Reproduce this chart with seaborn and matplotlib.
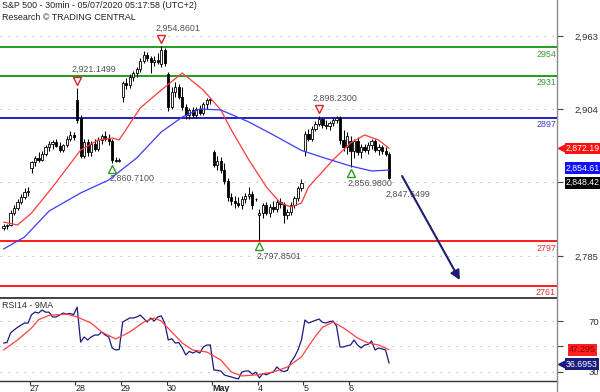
import numpy as np
import pandas as pd
import matplotlib
matplotlib.use("Agg")
import matplotlib.pyplot as plt
import seaborn as sns
from matplotlib.transforms import offset_copy, blended_transform_factory
from matplotlib.lines import Line2D

# ---------------- data ----------------
title = "S&P 500 - 30min - 05/07/2020 05:17:58 (UTC+2)"
subtitle = "Research \u00a9 TRADING CENTRAL"

opens = [2808, 2809, 2810, 2820, 2824, 2829, 2833, 2837,
         2856, 2861, 2864, 2863, 2868, 2873, 2876, 2877, 2874, 2871, 2875, 2880, 2883,
         2911, 2897, 2866, 2877, 2869, 2876, 2872, 2879, 2882, 2880, 2878, 2863, 2862,
         2914, 2925, 2923, 2930, 2933, 2936, 2943, 2948, 2945, 2942, 2944, 2940, 2952,
         2932, 2906, 2918, 2922, 2914, 2906, 2899, 2903, 2899, 2904, 2901, 2908, 2911,
         2869, 2859, 2862, 2855, 2846, 2833, 2830, 2828, 2826, 2831, 2834, 2835, 2831,
         2818, 2820, 2826, 2820, 2825, 2823, 2829, 2827, 2818, 2821, 2826, 2832, 2840,
         2870, 2884, 2880, 2888, 2892, 2896, 2891, 2890, 2893, 2895, 2897, 2879, 2873,
         2878, 2870, 2878, 2869, 2873, 2871, 2875, 2878, 2871, 2873, 2870, 2868]
highs = [2811, 2811, 2822, 2826, 2831, 2835, 2840, 2841,
         2862, 2866, 2869, 2870, 2875, 2878, 2879, 2880, 2877, 2876, 2882, 2886, 2885,
         2921.1499, 2899, 2880, 2880, 2878, 2880, 2881, 2884, 2886, 2884, 2880, 2865, 2864,
         2927, 2929, 2932, 2935, 2938, 2945, 2951, 2950, 2947, 2947, 2949, 2954.8601, 2953,
         2934, 2922, 2926, 2924, 2922, 2908, 2905, 2906, 2906, 2907, 2910, 2913, 2913,
         2871, 2866, 2865, 2860, 2848, 2836, 2834, 2833, 2834, 2836, 2841, 2838, 2832,
         2823, 2828, 2829, 2827, 2830, 2831, 2832, 2829, 2823, 2829, 2834, 2842, 2847,
         2886, 2888, 2890, 2894, 2898.23, 2897, 2895, 2894, 2897, 2898, 2898, 2887, 2885,
         2882, 2880, 2881, 2876, 2876, 2877, 2880, 2880, 2876, 2875, 2873, 2869]
lows = [2806, 2807, 2809, 2818, 2822, 2827, 2831, 2834,
        2852, 2858, 2861, 2862, 2866, 2870, 2872, 2873, 2869, 2869, 2873, 2878, 2879,
        2893, 2864, 2864, 2866, 2866, 2870, 2870, 2876, 2878, 2875, 2860.71, 2861, 2861,
        2910, 2920, 2921, 2927, 2930, 2934, 2941, 2943, 2933, 2939, 2940, 2938, 2939,
        2902, 2904, 2914, 2912, 2903, 2896, 2896, 2897, 2897, 2899, 2899, 2904, 2908,
        2857, 2855, 2852, 2843, 2830, 2826, 2824, 2825, 2823, 2828, 2831, 2823, 2830,
        2797.8501, 2816, 2818, 2817, 2821, 2821, 2824, 2812, 2815, 2818, 2824, 2830, 2838,
        2866, 2878, 2878, 2886, 2890, 2889, 2888, 2887, 2890, 2893, 2876, 2870, 2868,
        2856.98, 2864, 2867, 2864, 2869, 2868, 2872, 2869, 2867, 2868, 2866, 2847.6499]
closes = [2809, 2810, 2820, 2824, 2829, 2833, 2837, 2837,
          2861, 2864, 2863, 2868, 2873, 2876, 2877, 2874, 2871, 2875, 2880, 2883, 2881,
          2895, 2866, 2877, 2869, 2876, 2872, 2879, 2882, 2880, 2878, 2863, 2862, 2863,
          2925, 2923, 2930, 2933, 2936, 2943, 2948, 2945, 2942, 2944, 2942, 2952, 2941,
          2906, 2918, 2922, 2914, 2906, 2899, 2903, 2899, 2904, 2901, 2908, 2911, 2912,
          2859, 2862, 2855, 2846, 2833, 2830, 2828, 2826, 2831, 2834, 2835, 2826, 2831,
          2820, 2826, 2820, 2825, 2823, 2829, 2827, 2818, 2821, 2826, 2832, 2840, 2844,
          2884, 2880, 2888, 2892, 2896, 2891, 2890, 2893, 2895, 2897, 2879, 2873, 2882,
          2870, 2878, 2869, 2873, 2871, 2875, 2878, 2871, 2873, 2870, 2868, 2848.42]

# moving averages on price (read at sampled bars)
ma_fast_bar = [0, 4, 8, 14, 22, 27, 31, 33, 39, 45, 51, 57, 62, 65, 70, 75, 79, 82, 85, 87, 94, 99, 103, 107, 110]
ma_fast = [2812.6, 2810.2, 2819.9, 2840.9, 2870.8, 2878.9, 2880.5, 2879.0, 2904.8, 2919.3, 2933.1, 2919.3,
           2903.2, 2887.0, 2862.8, 2840.9, 2828.0, 2824.8, 2828.0, 2840.9, 2862.8, 2876.5, 2883.0, 2878.9, 2872.19]
ma_slow_bar = [0, 6, 13, 22, 30, 38, 45, 51, 56, 62, 70, 77, 85, 92, 99, 105, 110]
ma_slow = [2790.8, 2800.5, 2821.5, 2836.1, 2846.6, 2864.4, 2885.4, 2897.5, 2904.0, 2903.2, 2893.5,
           2883.0, 2870.5, 2864.0, 2857.9, 2853.9, 2854.61]

# RSI14 per bar and its 9MA (sampled)
rsi = [52.6, 53, 60.5, 62.9, 65, 66.8, 68.4, 68.4,
       75, 77.1, 76.3, 78.7, 77, 77, 73.2, 73.2, 74.7, 76.3, 75.5, 76, 75,
       81, 53.4, 57.4, 55, 57.4, 58.9, 58.9, 61.3, 59, 57.4, 48.7, 47.1, 47.5,
       69.2, 70.8, 72.4, 72.4, 73.2, 74.7, 72, 69.2, 72.4, 70, 73.2, 74, 68.4,
       55, 56, 52.6, 53, 48.7, 43.2, 46, 44.7, 46, 44.7, 49.5, 51, 51.1,
       31.3, 31, 30.5, 27.4, 26.5, 25.8, 25, 24.2, 29.7, 30.5, 30.5, 28, 29.5,
       25, 28.5, 27.5, 29, 29.7, 33.7, 31, 30, 31, 37.6, 41.6, 47.1, 55,
       70.8, 68.4, 69.5, 70.5, 71.6, 69, 68.4, 69.5, 70, 66, 49.5, 49.5, 50.5,
       51, 55, 51, 48.7, 51, 51.5, 54.2, 47.1, 48.7, 48, 47.1, 36.6953]
rsi_ma_bar = [0, 4, 8, 10, 13, 18, 21, 25, 28, 32, 36, 40, 43, 45, 48, 51, 54, 58, 62, 65, 68, 72,
              77, 81, 85, 87, 89, 91, 94, 97, 101, 104, 107, 110]
rsi_ma = [47.1, 55, 64.5, 71, 74.5, 75.5, 73.2, 68.4, 61.3, 55.8, 61.3, 69.2, 72.4, 70, 61.3, 52.6,
          47.1, 45.5, 39.2, 29.7, 26.6, 27.4, 29.7, 33.7, 41.6, 50, 58, 65, 69.2, 64.5, 56.6, 52.6, 51.1, 47.295]

# key levels
levels = [2954, 2931, 2897, 2797, 2761]
level_kind = ["res", "res", "pivot", "sup", "sup"]

# annotated extremes (bar index)
peak_bars = [21, 45, 90]
trough_bars = [31, 73, 99]
last_low_bar = 110

# forecast arrow (bar index, price)
arrow_x = [113.7, 130.2]
arrow_y = [2849.8, 2765.7]

day_labels = ["27", "28", "29", "30", "May", "4", "5", "6"]
day_first_bar = [8, 21, 34, 47, 60, 73, 86, 99]

price_ticks = [2963, 2904, 2845, 2785]
rsi_ticks = [30, 50, 70]

# ---------------- style ----------------
sns.set_style("white")
plt.rcParams['font.family'] = ['Liberation Sans', 'DejaVu Sans']

GREEN = '#1f9e1f'
BLUE = '#2020c0'
RED = '#ff1a1a'
NAVY = '#1c1c70'
TXT = '#505050'
FS = 6.4
lvl_color = {"res": GREEN, "pivot": BLUE, "sup": RED}
lvl_txt = {"res": '#3a9a3a', "pivot": '#3838d0', "sup": '#e03030'}

W, H = 600, 392
fig = plt.figure(figsize=(W / 100, H / 100), dpi=100)
ax = fig.add_axes([0, 1 - 298 / H, 557 / W, 298 / H])
ax2 = fig.add_axes([0, 1 - 381 / H, 557 / W, 83 / H], sharex=ax)

xlim = (-1.0, 157.9)
ax.set_xlim(*xlim)
ax.set_ylim(2751.2, 2992.1)
ax2.set_ylim(22.6, 88.2)

df = pd.DataFrame({"bar": np.arange(len(opens)), "o": opens, "h": highs, "l": lows, "c": closes})
df["up"] = df["c"] >= df["o"]

# wicks
ax.vlines(df["bar"], df["l"], df["h"], color='black', lw=0.75, zorder=3)
# bodies
body_bottom = np.minimum(df["o"], df["c"])
body_h = np.maximum(np.abs(df["c"] - df["o"]), 0.5)
ax.bar(df["bar"], body_h, bottom=body_bottom, width=0.62,
       color=np.where(df["up"], 'white', 'black'), edgecolor='black', linewidth=0.6, zorder=4)

# moving averages
sns.lineplot(x=ma_fast_bar, y=ma_fast, ax=ax, color='#ff3b3b', lw=0.9, estimator=None, sort=False, zorder=5)
sns.lineplot(x=ma_slow_bar, y=ma_slow, ax=ax, color='#3b3bff', lw=0.9, estimator=None, sort=False, zorder=5)

# levels
for lv, kind in zip(levels, level_kind):
    ax.axhline(lv, color=lvl_color[kind], lw=1.4, zorder=2)
    ax.annotate(str(lv), xy=(1.0, lv), xycoords=blended_transform_factory(ax.transAxes, ax.transData),
                xytext=(-1, -7), textcoords='offset pixels', ha='right', va='center',
                fontsize=FS, color=lvl_txt[kind])

# extreme markers
tri_up_off = offset_copy(ax.transData, fig=fig, x=0, y=7, units='dots')
tri_dn_off = offset_copy(ax.transData, fig=fig, x=0, y=-6, units='dots')
for b in peak_bars:
    v = highs[b]
    ax.plot([b], [v], marker='v', ms=6, mfc='white', mec='#e02020', mew=1.0, transform=tri_up_off, zorder=6)
    ax.annotate(f"{v:,.4f}", xy=(b, v), xytext=(-6, 18), textcoords='offset pixels',
                ha='left', va='center', fontsize=FS, color=TXT)
for b in trough_bars:
    v = lows[b]
    ax.plot([b], [v], marker='^', ms=6, mfc='white', mec='#2a9a2a', mew=1.0, transform=tri_dn_off, zorder=6)
    ax.annotate(f"{v:,.4f}", xy=(b, v), xytext=(-3, -16), textcoords='offset pixels',
                ha='left', va='center', fontsize=FS, color=TXT)
v = lows[last_low_bar]
ax.annotate(f"{v:,.4f}", xy=(last_low_bar, v), xytext=(-4, -16), textcoords='offset pixels',
            ha='left', va='center', fontsize=FS, color=TXT)

# forecast arrow
ax.annotate('', xy=(arrow_x[1], arrow_y[1]), xytext=(arrow_x[0], arrow_y[0]),
            arrowprops=dict(arrowstyle='-|>', color=NAVY, lw=1.5, mutation_scale=14,
                            shrinkA=0, shrinkB=0), zorder=7)

# RSI panel
sns.lineplot(x=np.arange(len(rsi)), y=rsi, ax=ax2, color='#1a1a80', lw=0.9, estimator=None, sort=False, zorder=4)
sns.lineplot(x=rsi_ma_bar, y=rsi_ma, ax=ax2, color='#ff4040', lw=0.9, estimator=None, sort=False, zorder=5)
ax2.text(0.004, 0.915, "RSI14 - 9MA", transform=ax2.transAxes, fontsize=FS, color='#303030', va='center')

# axes styling
dots = dict(color='#b8b8b8', lw=0.8, linestyle=(0, (1.2, 6)))
for a, ticks in ((ax, price_ticks), (ax2, rsi_ticks)):
    a.yaxis.tick_right()
    a.set_yticks(ticks)
    a.grid(axis='y', **dots)
    a.grid(axis='x', visible=False)
    a.tick_params(axis='y', direction='out', length=4, width=0.8, color='#444', pad=26,
                  labelsize=6.8, labelcolor='#303030')
    for sp in a.spines.values():
        sp.set_visible(False)
ax.set_yticklabels([f"{t:,}" for t in price_ticks])
ax2.set_yticklabels([str(t) for t in rsi_ticks])
for a in (ax, ax2):
    for lbl in a.get_yticklabels():
        lbl.set_horizontalalignment('right')
ax.tick_params(axis='x', which='both', bottom=False, labelbottom=False)

ax2.spines['top'].set_visible(True)
ax2.spines['top'].set_color('#333333')
ax2.spines['top'].set_linewidth(1.3)
ax2.spines['bottom'].set_visible(True)
ax2.spines['bottom'].set_color('#333333')
ax2.spines['bottom'].set_linewidth(1.0)

tick_pos = [b - 0.5 for b in day_first_bar]
ax2.set_xticks(tick_pos)
ax2.set_xticklabels(day_labels)
ax2.tick_params(axis='x', bottom=True, direction='out', length=3, width=0.8, color='#333',
                pad=-0.6, labelsize=6.4, labelcolor='#202020')
for lbl in ax2.get_xticklabels():
    lbl.set_horizontalalignment('left')
    if lbl.get_text() == "May":
        lbl.set_fontweight('bold')
ax2.set_xlim(*xlim)
ax.set_xlabel(''); ax.set_ylabel(''); ax2.set_xlabel(''); ax2.set_ylabel('')

# right vertical axis line
fig.add_artist(Line2D([557 / W, 557 / W], [0, 1], transform=fig.transFigure, color='#8a8a8a', lw=1.0))

# last-value boxes
def value_box(a, val, text, fc, tc, arrow=False, dy=0, dx=9):
    tr = blended_transform_factory(a.transAxes, a.transData)
    a.annotate(text, xy=(1.0, val), xycoords=tr, xytext=(dx, dy), textcoords='offset pixels',
               ha='left', va='center', fontsize=6.3, color=tc, annotation_clip=False, zorder=20,
               bbox=dict(boxstyle='square,pad=0.15', fc=fc, ec='none'))
    if arrow:
        a.plot([1.0], [val], marker='<', ms=6.5, color=fc, mec=fc,
               transform=offset_copy(tr, fig=fig, x=6, y=dy, units='dots'),
               clip_on=False, zorder=19)

value_box(ax, ma_fast[-1], f"{ma_fast[-1]:,.2f}", '#ff1010', 'white', arrow=True)
value_box(ax, ma_slow[-1], f"{ma_slow[-1]:,.2f}", '#1010ff', 'white', dy=2)
value_box(ax, closes[-1], f"{closes[-1]:,.2f}", 'black', 'white', dy=-5)
value_box(ax2, rsi_ma[-1], f"{rsi_ma[-1]:g}", '#ff2020', '#8a0000', dx=12)
value_box(ax2, rsi[-1], f"{rsi[-1]:g}", '#1c1c80', 'white', arrow=True, dy=-1)

fig.text(2 / W, 1 - 6 / H, title, fontsize=6.4, color='#222222', va='center', ha='left')
fig.text(2 / W, 1 - 17 / H, subtitle, fontsize=6.4, color='#222222', va='center', ha='left')

fig.savefig("out.png", dpi=100, facecolor='white')
